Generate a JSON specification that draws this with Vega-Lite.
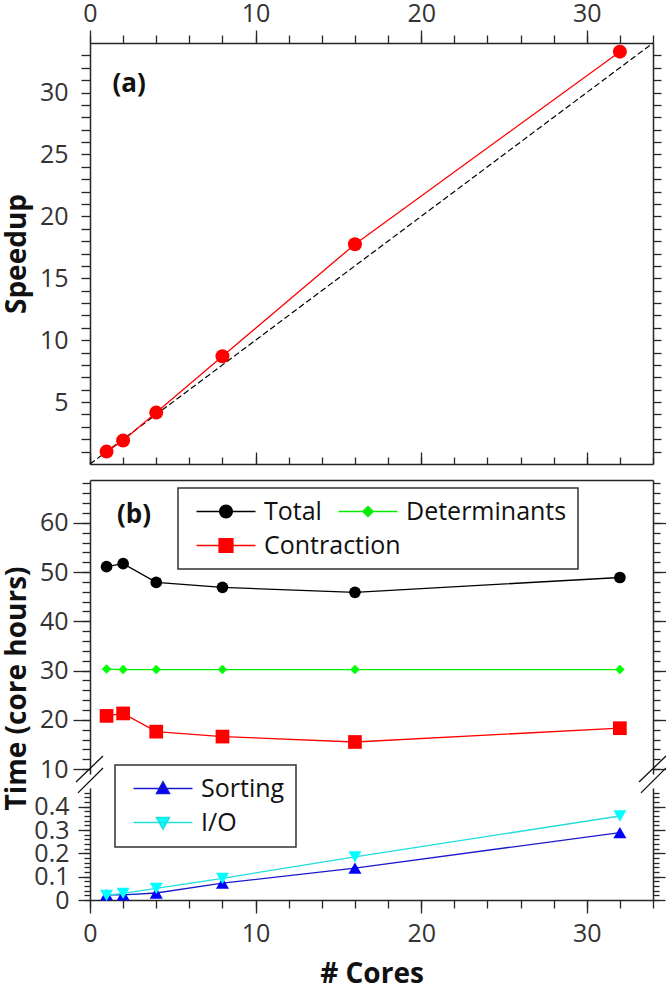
{
  "$schema": "https://vega.github.io/schema/vega-lite/v6.json",
  "autosize": {"type": "none"},
  "padding": {"left": 90, "top": 43, "right": 576, "bottom": 942},
  "background": "white",
  "config": {
    "view": {"stroke": null},
    "font": "Open Sans",
    "axis": {
      "labelFont": "Open Sans", "labelFontSize": 25, "labelColor": "#333",
      "domainColor": "#262626", "tickColor": "#262626", "domainWidth": 1.5, "tickWidth": 1.3,
      "titleFont": "Open Sans", "titleFontSize": 28, "titleFontWeight": "bold", "titleColor": "#111",
      "grid": false, "labelFlush": false, "labelOverlap": false
    },
    "legend": {
      "labelFont": "Open Sans", "labelFontSize": 25, "labelColor": "#111", "labelLimit": 400,
      "strokeColor": "#333", "strokeWidth": 1.5, "fillColor": "#ffffff",
      "padding": 11, "rowPadding": 8, "columnPadding": 9,
      "symbolSize": 100, "symbolStrokeWidth": 1.5, "labelOffset": 50, "gridAlign": "none"
    }
  },
  "datasets": {
    "ideal": [{"cores": 0, "speedup": 0}, {"cores": 34, "speedup": 34}],
    "speedup": [
      {"cores": 1, "speedup": 1.0}, {"cores": 2, "speedup": 1.9}, {"cores": 4, "speedup": 4.15},
      {"cores": 8, "speedup": 8.7}, {"cores": 16, "speedup": 17.75}, {"cores": 32, "speedup": 33.3}
    ],
    "time": [
      {"cores": 1, "series": "Total", "hours": 51.1}, {"cores": 2, "series": "Total", "hours": 51.7},
      {"cores": 4, "series": "Total", "hours": 47.9}, {"cores": 8, "series": "Total", "hours": 46.9},
      {"cores": 16, "series": "Total", "hours": 45.9}, {"cores": 32, "series": "Total", "hours": 48.9},
      {"cores": 1, "series": "Determinants", "hours": 30.3}, {"cores": 2, "series": "Determinants", "hours": 30.2},
      {"cores": 4, "series": "Determinants", "hours": 30.2}, {"cores": 8, "series": "Determinants", "hours": 30.2},
      {"cores": 16, "series": "Determinants", "hours": 30.2}, {"cores": 32, "series": "Determinants", "hours": 30.2},
      {"cores": 1, "series": "Contraction", "hours": 20.8}, {"cores": 2, "series": "Contraction", "hours": 21.3},
      {"cores": 4, "series": "Contraction", "hours": 17.6}, {"cores": 8, "series": "Contraction", "hours": 16.6},
      {"cores": 16, "series": "Contraction", "hours": 15.5}, {"cores": 32, "series": "Contraction", "hours": 18.3},
      {"cores": 1, "series": "Sorting", "hours": 0.022}, {"cores": 2, "series": "Sorting", "hours": 0.022},
      {"cores": 4, "series": "Sorting", "hours": 0.03}, {"cores": 8, "series": "Sorting", "hours": 0.072},
      {"cores": 16, "series": "Sorting", "hours": 0.137}, {"cores": 32, "series": "Sorting", "hours": 0.289},
      {"cores": 1, "series": "I/O", "hours": 0.02}, {"cores": 2, "series": "I/O", "hours": 0.028},
      {"cores": 4, "series": "I/O", "hours": 0.05}, {"cores": 8, "series": "I/O", "hours": 0.093},
      {"cores": 16, "series": "I/O", "hours": 0.185}, {"cores": 32, "series": "I/O", "hours": 0.36}
    ],
    "labels": [
      {"panel": "a", "x": 2.36, "y": 30.7, "label": "(a)"},
      {"panel": "b", "x": 2.66, "y": 61.6, "label": "(b)"}
    ],
    "breaks": [
      {"x1": -0.845, "y1": 0.506, "x2": 0.785, "y2": 0.617},
      {"x1": -0.725, "y1": 0.459, "x2": 0.785, "y2": 0.566},
      {"x1": 33.155, "y1": 0.506, "x2": 34.785, "y2": 0.617},
      {"x1": 33.275, "y1": 0.459, "x2": 34.785, "y2": 0.566}
    ]
  },
  "spacing": 16,
  "bounds": "flush",
  "vconcat": [
    {
      "width": 563,
      "height": 421,
      "layer": [
        {
          "data": {"name": "ideal"},
          "mark": {"type": "line", "color": "#000000", "strokeWidth": 1.2, "strokeDash": [6, 3]},
          "encoding": {
            "x": {"field": "cores", "type": "quantitative", "scale": {"domain": [0, 34], "nice": false, "zero": false},
                  "axis": {"orient": "top", "values": [0, 10, 20, 30], "tickSize": 13, "labelPadding": 4, "title": null}},
            "y": {"field": "speedup", "type": "quantitative", "scale": {"domain": [0, 34], "nice": false, "zero": false},
                  "axis": {"orient": "left", "values": [1,2,3,4,5,6,7,8,9,10,11,12,13,14,15,16,17,18,19,20,21,22,23,24,25,26,27,28,29,30,31,32,33],
                           "tickSize": 9, "labelPadding": 13, "labelExpr": "datum.value % 5 === 0 ? datum.label : ''",
                           "title": "Speedup", "titleX": -65, "titleBaseline": "alphabetic"}}
          }
        },
        {
          "data": {"name": "speedup"},
          "mark": {"type": "line", "color": "#ff0000", "strokeWidth": 1.3,
                   "point": {"filled": true, "size": 196, "color": "#ff0000", "opacity": 1}},
          "encoding": {
            "x": {"field": "cores", "type": "quantitative",
                  "axis": {"orient": "top", "values": [0,2,4,6,8,10,12,14,16,18,20,22,24,26,28,30,32,34], "tickSize": 8, "labels": false, "domain": false, "title": null}},
            "y": {"field": "speedup", "type": "quantitative",
                  "axis": {"orient": "right", "values": [1,2,3,4,5,6,7,8,9,10,11,12,13,14,15,16,17,18,19,20,21,22,23,24,25,26,27,28,29,30,31,32,33],
                           "tickSize": 8, "labels": false, "domain": true, "title": null}}
          }
        },
        {
          "data": {"name": "speedup"},
          "mark": {"type": "point", "opacity": 0},
          "encoding": {
            "x": {"field": "cores", "type": "quantitative",
                  "axis": {"orient": "bottom", "values": [0, 10, 20, 30], "tickSize": -12, "labels": false, "domain": true, "title": null}},
            "y": {"field": "speedup", "type": "quantitative", "axis": null}
          }
        },
        {
          "data": {"name": "speedup"},
          "mark": {"type": "point", "opacity": 0},
          "encoding": {
            "x": {"field": "cores", "type": "quantitative",
                  "axis": {"orient": "bottom", "values": [0,2,4,6,8,10,12,14,16,18,20,22,24,26,28,30,32,34], "tickSize": -7, "labels": false, "domain": false, "title": null}},
            "y": {"field": "speedup", "type": "quantitative", "axis": null}
          }
        },
        {
          "data": {"name": "labels"},
          "transform": [{"filter": "datum.panel === 'a'"}],
          "mark": {"type": "text", "font": "Open Sans", "fontWeight": "bold", "fontSize": 26, "color": "#111111", "baseline": "middle"},
          "encoding": {
            "x": {"field": "x", "type": "quantitative", "axis": null},
            "y": {"field": "y", "type": "quantitative", "axis": null},
            "text": {"field": "label"}
          }
        }
      ],
      "resolve": {"axis": {"x": "independent", "y": "independent"}}
    },
    {
      "spacing": 14,
      "bounds": "flush",
      "resolve": {"scale": {"color": "independent", "stroke": "independent", "shape": "independent"}},
      "vconcat": [
        {
          "width": 563,
          "height": 294,
          "layer": [
            {
              "data": {"name": "time"},
              "transform": [{"filter": "datum.series === 'Total'"}],
              "mark": {"type": "line", "color": "#000000", "strokeWidth": 1.3,
                       "point": {"filled": true, "shape": "circle", "size": 137, "color": "#000000", "opacity": 1}},
              "encoding": {
                "x": {"field": "cores", "type": "quantitative", "scale": {"domain": [0, 34], "nice": false, "zero": false},
                      "axis": {"orient": "top", "ticks": false, "labels": false, "domain": true, "title": null}},
                "y": {"field": "hours", "type": "quantitative", "scale": {"domain": [9, 68.7], "nice": false, "zero": false},
                      "axis": {"orient": "left", "values": [10, 20, 30, 40, 50, 60], "tickSize": 17, "labelPadding": 5,
                               "title": "Time (core hours)", "titleX": -65, "titleY": 208, "titleBaseline": "alphabetic"}}
              }
            },
            {
              "data": {"name": "time"},
              "transform": [{"filter": "datum.series === 'Determinants'"}],
              "mark": {"type": "line", "color": "#00ee00", "strokeWidth": 1.3,
                       "point": {"filled": true, "shape": "diamond", "size": 90, "color": "#00ff00", "opacity": 1}},
              "encoding": {
                "x": {"field": "cores", "type": "quantitative", "axis": null},
                "y": {"field": "hours", "type": "quantitative",
                      "axis": {"orient": "left", "values": [10,12,14,16,18,20,22,24,26,28,30,32,34,36,38,40,42,44,46,48,50,52,54,56,58,60,62,64,66,68],
                               "tickSize": 8, "labels": false, "domain": false, "title": null}}
              }
            },
            {
              "data": {"name": "time"},
              "transform": [{"filter": "datum.series === 'Contraction'"}],
              "mark": {"type": "line", "color": "#ff0000", "strokeWidth": 1.3,
                       "point": {"filled": true, "shape": "square", "size": 188, "color": "#ff0000", "opacity": 1}},
              "encoding": {
                "x": {"field": "cores", "type": "quantitative", "axis": null},
                "y": {"field": "hours", "type": "quantitative",
                      "axis": {"orient": "right", "values": [10, 20, 30, 40, 50, 60], "tickSize": 13, "labels": false, "domain": true, "title": null}}
              }
            },
            {
              "data": {"name": "time"},
              "transform": [{"filter": "datum.series === 'Total'"}],
              "mark": {"type": "point", "opacity": 0},
              "encoding": {
                "x": {"field": "cores", "type": "quantitative", "axis": null},
                "y": {"field": "hours", "type": "quantitative",
                      "axis": {"orient": "right", "values": [10,12,14,16,18,20,22,24,26,28,30,32,34,36,38,40,42,44,46,48,50,52,54,56,58,60,62,64,66,68],
                               "tickSize": 7, "labels": false, "domain": false, "title": null}}
              }
            },
            {
              "data": {"name": "time"},
              "transform": [{"filter": "false"}],
              "mark": {"type": "point", "filled": true, "opacity": 1, "strokeWidth": 1.5},
              "encoding": {
                "color": {"field": "series", "type": "nominal",
                          "scale": {"domain": ["Total", "Determinants"], "range": ["#000000", "#00ee00"]},
                          "legend": {"title": "\u00a0", "titleOrient": "bottom", "titleFontSize": 25, "titlePadding": 8,
                                     "orient": "none", "legendX": 88, "legendY": 8, "columns": 2, "direction": "horizontal"}},
                "stroke": {"field": "series", "type": "nominal",
                           "scale": {"domain": ["Total", "Determinants"], "range": ["#000000", "#00ee00"]},
                           "legend": {"title": "\u00a0", "titleOrient": "bottom", "titleFontSize": 25, "titlePadding": 8,
                                      "orient": "none", "legendX": 88, "legendY": 8, "columns": 2, "direction": "horizontal"}},
                "shape": {"field": "series", "type": "nominal",
                          "scale": {"domain": ["Total", "Determinants"],
                                    "range": ["M-1,0L10.8,0M6.16,0A1.26,1.26,0,1,1,3.64,0A1.26,1.26,0,1,1,6.16,0Z",
                                              "M-1,0L10.8,0M4.9,-1L5.9,0L4.9,1L3.9,0Z"]},
                          "legend": {"title": "\u00a0", "titleOrient": "bottom", "titleFontSize": 25, "titlePadding": 8,
                                     "orient": "none", "legendX": 88, "legendY": 8, "columns": 2, "direction": "horizontal"}}
              }
            },
            {
              "data": {"name": "time"},
              "transform": [{"filter": "false"}],
              "mark": {"type": "point", "filled": true, "opacity": 1, "strokeWidth": 1.5},
              "encoding": {
                "color": {"field": "series", "type": "nominal",
                          "scale": {"domain": ["Contraction"], "range": ["#ff0000"]},
                          "legend": {"title": null, "orient": "none", "legendX": 99, "legendY": 53, "padding": 0,
                                     "strokeColor": "transparent", "fillColor": "transparent", "columns": 1}},
                "stroke": {"field": "series", "type": "nominal",
                           "scale": {"domain": ["Contraction"], "range": ["#ff0000"]},
                           "legend": {"title": null, "orient": "none", "legendX": 99, "legendY": 53, "padding": 0,
                                      "strokeColor": "transparent", "fillColor": "transparent", "columns": 1}},
                "shape": {"field": "series", "type": "nominal",
                          "scale": {"domain": ["Contraction"],
                                    "range": ["M-1,0L10.8,0M3.53,-1.37L6.27,-1.37L6.27,1.37L3.53,1.37Z"]},
                          "legend": {"title": null, "orient": "none", "legendX": 99, "legendY": 53, "padding": 0,
                                     "strokeColor": "transparent", "fillColor": "transparent", "columns": 1}}
              }
            },
            {
              "data": {"name": "labels"},
              "transform": [{"filter": "datum.panel === 'b'"}],
              "mark": {"type": "text", "font": "Open Sans", "fontWeight": "bold", "fontSize": 26, "color": "#111111", "baseline": "middle"},
              "encoding": {
                "x": {"field": "x", "type": "quantitative", "axis": null},
                "y": {"field": "y", "type": "quantitative", "axis": null},
                "text": {"field": "label"}
              }
            }
          ],
          "resolve": {
            "axis": {"x": "independent", "y": "independent"},
            "scale": {"color": "independent", "stroke": "independent", "shape": "independent"}
          }
        },
        {
          "width": 563,
          "height": 112,
          "layer": [
            {
              "data": {"name": "time"},
              "transform": [{"filter": "datum.series === 'Sorting'"}],
              "mark": {"type": "line", "color": "#1a1acc", "strokeWidth": 1.3,
                       "point": {"filled": true, "shape": "triangle-up", "size": 169, "color": "#0000ff", "opacity": 1}},
              "encoding": {
                "x": {"field": "cores", "type": "quantitative", "scale": {"domain": [0, 34], "nice": false, "zero": false},
                      "axis": {"orient": "bottom", "values": [0, 10, 20, 30], "tickSize": 13, "labelPadding": 8,
                               "title": "# Cores", "titlePadding": 14}},
                "y": {"field": "hours", "type": "quantitative", "scale": {"domain": [0, 0.48], "nice": false, "zero": false},
                      "axis": {"orient": "left", "values": [0, 0.1, 0.2, 0.3, 0.4], "tickSize": 12, "labelPadding": 9,
                               "labelExpr": "format(datum.value, '~g')", "title": null}}
              }
            },
            {
              "data": {"name": "time"},
              "transform": [{"filter": "datum.series === 'I/O'"}],
              "mark": {"type": "line", "color": "#22dddd", "strokeWidth": 1.3,
                       "point": {"filled": true, "shape": "triangle-down", "size": 169, "color": "#00ffff", "opacity": 1}},
              "encoding": {
                "x": {"field": "cores", "type": "quantitative",
                      "axis": {"orient": "bottom", "values": [0,2,4,6,8,10,12,14,16,18,20,22,24,26,28,30,32,34], "tickSize": 8, "labels": false, "domain": false, "title": null}},
                "y": {"field": "hours", "type": "quantitative",
                      "axis": {"orient": "left", "values": [0,0.02,0.04,0.06,0.08,0.1,0.12,0.14,0.16,0.18,0.2,0.22,0.24,0.26,0.28,0.3,0.32,0.34,0.36,0.38,0.4,0.42,0.44,0.46],
                               "tickSize": 6, "labels": false, "domain": false, "title": null}}
              }
            },
            {
              "data": {"name": "time"},
              "transform": [{"filter": "datum.series === 'Sorting'"}],
              "mark": {"type": "point", "opacity": 0},
              "encoding": {
                "x": {"field": "cores", "type": "quantitative", "axis": null},
                "y": {"field": "hours", "type": "quantitative",
                      "axis": {"orient": "right", "values": [0, 0.1, 0.2, 0.3, 0.4], "tickSize": 12, "labels": false, "domain": true, "title": null}}
              }
            },
            {
              "data": {"name": "time"},
              "transform": [{"filter": "datum.series === 'Sorting'"}],
              "mark": {"type": "point", "opacity": 0},
              "encoding": {
                "x": {"field": "cores", "type": "quantitative", "axis": null},
                "y": {"field": "hours", "type": "quantitative",
                      "axis": {"orient": "right", "values": [0,0.02,0.04,0.06,0.08,0.1,0.12,0.14,0.16,0.18,0.2,0.22,0.24,0.26,0.28,0.3,0.32,0.34,0.36,0.38,0.4,0.42,0.44,0.46],
                               "tickSize": 6, "labels": false, "domain": false, "title": null}}
              }
            },
            {
              "data": {"name": "time"},
              "transform": [{"filter": "false"}],
              "mark": {"type": "point", "filled": true, "opacity": 1, "strokeWidth": 1.5},
              "encoding": {
                "color": {"field": "series", "type": "nominal",
                          "scale": {"domain": ["Sorting", "I/O"], "range": ["#0000ff", "#00ffff"]},
                          "legend": {"title": null, "orient": "none", "legendX": 25, "legendY": -23, "columns": 1}},
                "stroke": {"field": "series", "type": "nominal",
                           "scale": {"domain": ["Sorting", "I/O"], "range": ["#1a1acc", "#22dddd"]},
                           "legend": {"title": null, "orient": "none", "legendX": 25, "legendY": -23, "columns": 1}},
                "shape": {"field": "series", "type": "nominal",
                          "scale": {"domain": ["Sorting", "I/O"],
                                    "range": ["M-1,0L10.8,0M4.9,-1.35L6.2,1L3.6,1Z",
                                              "M-1,0L10.8,0M4.9,1.35L6.2,-1L3.6,-1Z"]},
                          "legend": {"title": null, "orient": "none", "legendX": 25, "legendY": -23, "columns": 1}}
              }
            },
            {
              "data": {"name": "breaks"},
              "mark": {"type": "rule", "color": "#111111", "strokeWidth": 1.3},
              "encoding": {
                "x": {"field": "x1", "type": "quantitative", "axis": null},
                "x2": {"field": "x2"},
                "y": {"field": "y1", "type": "quantitative", "axis": null},
                "y2": {"field": "y2"}
              }
            }
          ],
          "resolve": {"axis": {"x": "independent", "y": "independent"}}
        }
      ]
    }
  ]
}
